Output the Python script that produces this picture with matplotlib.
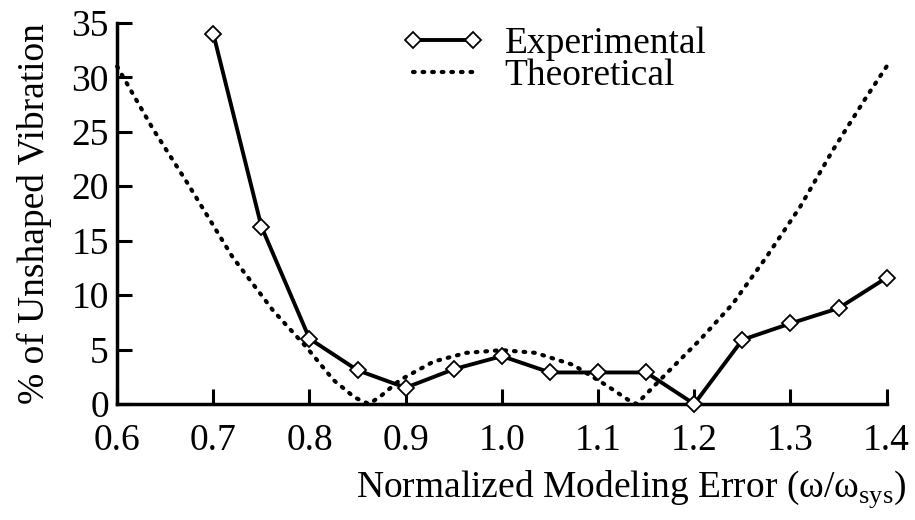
import matplotlib
matplotlib.use('Agg')
import matplotlib.pyplot as plt

# Experimental residual vibration (% of unshaped)
exp_x = [0.70, 0.75, 0.80, 0.85, 0.90, 0.95, 1.00, 1.05, 1.10, 1.15, 1.20, 1.25, 1.30, 1.35, 1.40]
exp_y = [34.0, 16.3, 6.0, 3.1, 1.5, 3.2, 4.4, 2.9, 2.9, 2.9, 0.0, 5.9, 7.4, 8.8, 11.6]

# Theoretical curve
theo_x = [0.600, 0.637, 0.673, 0.720, 0.762, 0.797, 0.825, 0.847, 0.862, 0.875, 0.894,
          0.929, 0.963, 1.000, 1.035, 1.074, 1.109, 1.131, 1.140, 1.171, 1.206,
          1.240, 1.275, 1.310, 1.344, 1.379, 1.400]
theo_y = [31.0, 25.3, 20.3, 13.5, 8.6, 5.2, 2.2, 0.6, 0.0, 0.8, 2.2,
          3.9, 4.7, 4.95, 4.7, 3.6, 1.7, 0.4, 0.0, 2.8, 5.9,
          9.2, 13.5, 18.1, 23.3, 28.2, 31.0]

xticks = [0.6, 0.7, 0.8, 0.9, 1.0, 1.1, 1.2, 1.3, 1.4]
yticks = [0, 5, 10, 15, 20, 25, 30, 35]

plt.rcParams['font.family'] = ['Liberation Serif', 'DejaVu Serif']
plt.rcParams['mathtext.fontset'] = 'custom'
plt.rcParams['mathtext.rm'] = 'Liberation Serif'

fig = plt.figure(figsize=(9.15, 5.2), dpi=100)
ax = fig.add_axes([0.128, 0.223, 0.841, 0.733])

ax.plot(exp_x, exp_y, color='black', lw=2.8, marker='D', markersize=8.5,
        markerfacecolor='white', markeredgecolor='black', markeredgewidth=1.3,
        label='Experimental', clip_on=False, zorder=3)
ax.plot(theo_x, theo_y, color='black', lw=3, linestyle=(0, (0.4, 1.9)),
        dash_capstyle='round', label='Theoretical', clip_on=False, zorder=2)

ax.set_xlim(0.6, 1.4)
ax.set_ylim(0, 35)
ax.set_xticks(xticks)
ax.set_xticklabels(['%.1f' % t for t in xticks])
ax.set_yticks(yticks)
ax.tick_params(direction='in', length=11, width=2.2, labelsize=27, pad=6)
ax.tick_params(axis='x', pad=14)
for s in ['top', 'right']:
    ax.spines[s].set_visible(False)
for s in ['left', 'bottom']:
    ax.spines[s].set_linewidth(2.5)

ax.set_ylabel('% of Unshaped Vibration', fontsize=27, labelpad=14)
fig.text(0.99, 0.02, r'Normalized Modeling Error (ω/ω$_{\mathrm{sys}}$)',
         fontsize=27, ha='right', va='bottom')

ax.legend(loc='upper left', bbox_to_anchor=(0.41, 1.0), bbox_transform=fig.transFigure,
          frameon=False, fontsize=27, handlelength=2.2, handletextpad=0.55,
          labelspacing=-0.05, borderpad=0.2, numpoints=2)

fig.savefig('out.png', dpi=100)
